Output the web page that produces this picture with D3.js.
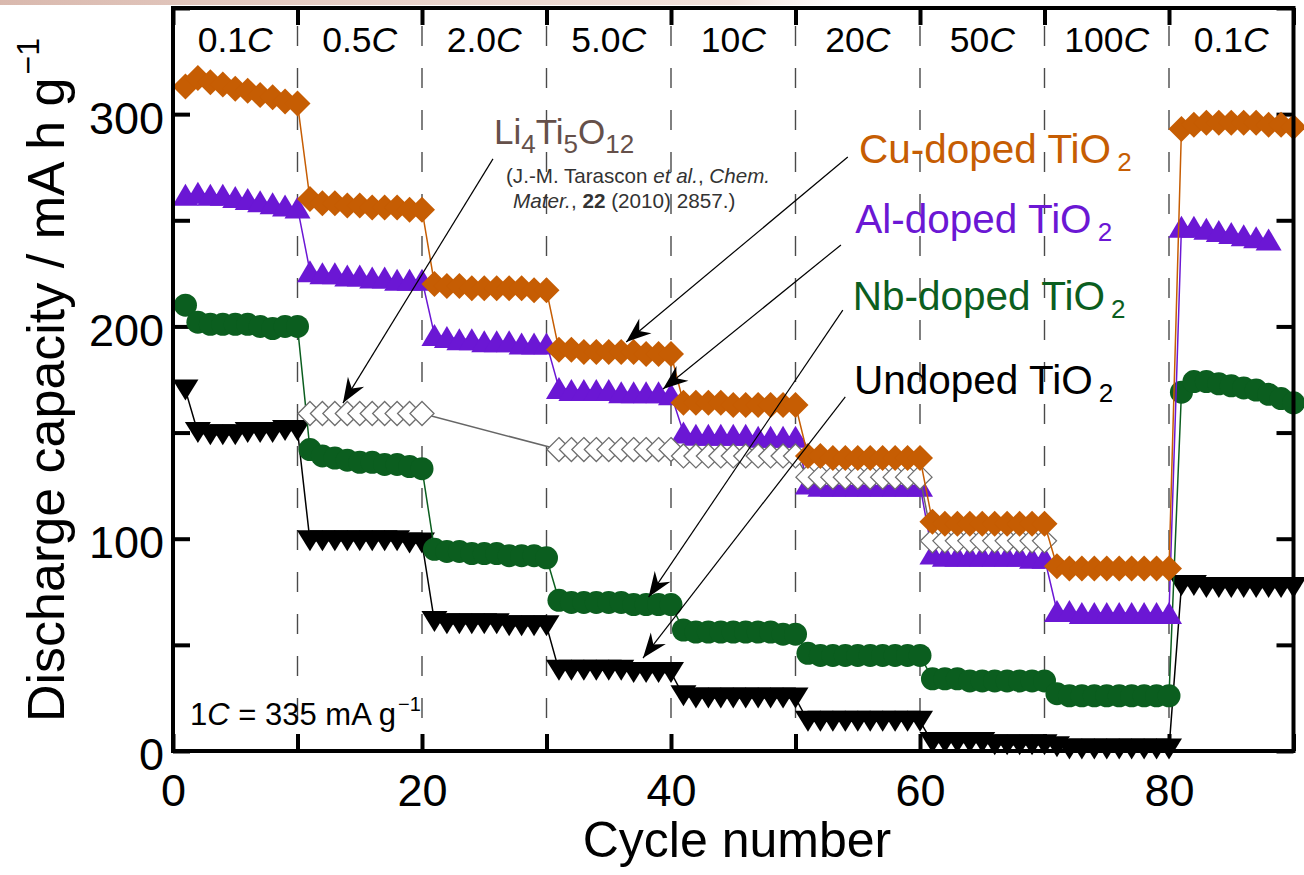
<!DOCTYPE html>
<html>
<head>
<meta charset="utf-8">
<script src="https://cdn.jsdelivr.net/npm/d3@7"></script>
<style>
  html, body { margin: 0; padding: 0; background: #fff; }
  svg { display: block; font-family: "Liberation Sans", Arial, Helvetica, sans-serif; }
</style>
</head>
<body>
<svg id="chart" width="1304" height="875"></svg>
<script>
// ---- data -------------------------------------------------------------
// C-rate applied in each block of ten cycles
const rateLabels = ["0.1", "0.5", "2.0", "5.0", "10", "20", "50", "100", "0.1"];
const rateBounds = [10, 20, 30, 40, 50, 60, 70, 80];

// discharge capacity (mA h g^-1), one value per cycle starting at cycle 1
const cuDoped = [
  313, 317, 315, 314, 312, 311, 309, 308, 306, 305,
  260, 258, 258, 257, 257, 256, 256, 256, 255, 255,
  220, 219, 219, 218, 218, 218, 218, 218, 217, 217,
  189, 189, 188, 188, 188, 188, 188, 187, 187, 187,
  164, 164, 164, 164, 163, 163, 163, 163, 163, 163,
  139, 139, 138, 138, 138, 138, 138, 138, 138, 138,
  108, 107, 107, 107, 107, 107, 107, 107, 107, 107,
  87, 86, 86, 86, 86, 86, 86, 86, 86, 86,
  293, 295, 296, 296, 296, 296, 296, 295, 295, 294
];
const alDoped = [
  262, 263, 262, 262, 261, 260, 259, 258, 257, 256,
  226, 225, 225, 224, 224, 223, 223, 222, 222, 222,
  196, 195, 194, 194, 193, 193, 193, 192, 192, 192,
  171, 170, 170, 170, 170, 169, 169, 169, 169, 168,
  150, 149, 149, 149, 149, 149, 148, 148, 148, 148,
  126, 125, 125, 125, 125, 125, 125, 125, 125, 125,
  93, 92, 92, 92, 92, 92, 92, 92, 91, 91,
  66, 66, 65, 65, 65, 65, 65, 65, 65, 65,
  247, 247, 246, 245, 244, 243, 242, 241
];
const nbDoped = [
  210, 202, 201, 201, 201, 201, 200, 199, 200, 200,
  142, 139, 138, 137, 136, 136, 135, 135, 134, 133,
  95, 94, 94, 93, 93, 93, 92, 92, 92, 91,
  71, 70, 70, 70, 70, 70, 69, 69, 69, 69,
  57, 56, 56, 56, 56, 56, 56, 56, 55, 55,
  46, 45, 45, 45, 45, 45, 45, 45, 45, 45,
  34, 34, 34, 33, 33, 33, 33, 33, 33, 33,
  27, 26, 26, 26, 26, 26, 26, 26, 26, 26,
  169, 174, 174, 173, 172, 171, 170, 168, 166, 164
];
const undoped = [
  170, 150, 149, 149, 149, 150, 150, 150, 151, 151,
  99, 99, 99, 99, 99, 99, 99, 99, 98, 98,
  61, 60, 60, 60, 60, 60, 59, 59, 59, 59,
  38, 38, 38, 38, 38, 38, 37, 37, 37, 37,
  26, 25, 25, 25, 25, 25, 25, 25, 25, 25,
  14, 14, 14, 14, 14, 14, 14, 14, 14, 14,
  4, 4, 4, 4, 4, 3, 3, 3, 3, 3,
  2, 1, 1, 1, 1, 1, 1, 1, 1, 1,
  78, 78, 77, 77, 77, 77, 77, 77, 77, 77
];
// Li4Ti5O12 reference data (Tarascon et al.)
const ltoCycles = [
  11, 12, 13, 14, 15, 16, 17, 18, 19, 20,
  31, 32, 33, 34, 35, 36, 37, 38, 39, 40,
  41, 42, 43, 44, 45, 46, 47, 48, 49, 50,
  51, 52, 53, 54, 55, 56, 57, 58, 59, 60,
  61, 62, 63, 64, 65, 66, 67, 68, 69, 70
];
const ltoValues = [
  159, 159, 159, 159, 159, 159, 159, 159, 159, 159,
  142, 142, 142, 142, 142, 142, 142, 142, 142, 142,
  139, 139, 139, 139, 139, 139, 139, 139, 139, 139,
  129, 129, 129, 129, 129, 129, 129, 129, 129, 129,
  99, 99, 99, 99, 99, 99, 99, 99, 99, 99
];

// axis ticks
const xTicks = [0, 10, 20, 30, 40, 50, 60, 70, 80, 90];
const xTickLabels = [0, 20, 40, 60, 80];
const yTicks = [0, 50, 100, 150, 200, 250, 300, 350];
const yTickLabels = [0, 100, 200, 300];

// ---- layout -----------------------------------------------------------
const svg = d3.select("#chart");
const x = d3.scaleLinear().domain([0, 90]).range([173, 1293.5]);
const y = d3.scaleLinear().domain([0, 350]).range([751, 8]);

const colors = {
  cu: "#c65d03",
  al: "#6b17d4",
  nb: "#0b5e1f",
  un: "#000000",
  lto: "#666666",
  ltoText: "#65504a"
};

// faint tint along the top edge
const defs = svg.append("defs");
const band = defs.append("linearGradient").attr("id", "topBand")
  .attr("x1", "0").attr("x2", "1").attr("y1", "0").attr("y2", "0");
band.append("stop").attr("offset", "0").attr("stop-color", "#c08a78").attr("stop-opacity", 0.6);
band.append("stop").attr("offset", "0.85").attr("stop-color", "#d7a898").attr("stop-opacity", 0.35);
band.append("stop").attr("offset", "1").attr("stop-color", "#e8c8bc").attr("stop-opacity", 0);
svg.append("rect").attr("x", 0).attr("y", 0).attr("width", 860).attr("height", 5)
  .attr("fill", "url(#topBand)");

// dashed separators between C-rate blocks
svg.append("g").selectAll("line").data(rateBounds).join("line")
  .attr("x1", d => x(d)).attr("x2", d => x(d))
  .attr("y1", y(350)).attr("y2", y(0))
  .attr("stroke", "#4a4a4a").attr("stroke-width", 1.4)
  .attr("stroke-dasharray", "20,22").attr("stroke-dashoffset", 24);

// C-rate labels along the top
svg.append("g").selectAll("text").data(rateLabels).join("text")
  .attr("x", (d, i) => x(i * 10 + 5)).attr("y", 52)
  .attr("text-anchor", "middle").attr("font-size", 35.5).attr("fill", "#000")
  .each(function (d) {
    const t = d3.select(this);
    t.append("tspan").text(d);
    t.append("tspan").attr("font-style", "italic").text("C");
  });

// ---- axes -------------------------------------------------------------
function styleAxis(g, size) {
  g.select(".domain").remove();
  g.selectAll(".tick line").attr("stroke", "#000").attr("stroke-width", 4);
  g.selectAll(".tick text").attr("fill", "#000")
    .attr("font-family", "'Liberation Sans', Arial, sans-serif")
    .attr("font-size", size);
  g.attr("font-size", null).attr("font-family", null);
}
const tickLen = -17;

svg.append("g").attr("transform", `translate(0,${y(0)})`)
  .call(d3.axisBottom(x).tickValues(xTicks).tickSize(tickLen).tickPadding(23)
    .tickFormat(d => xTickLabels.includes(d) ? d : ""))
  .call(g => styleAxis(g, 45));
svg.append("g").attr("transform", `translate(0,${y(350)})`)
  .call(d3.axisTop(x).tickValues(xTicks).tickSize(tickLen).tickFormat(""))
  .call(g => styleAxis(g, 10));
svg.append("g").attr("transform", `translate(${x(0)},0)`)
  .call(d3.axisLeft(y).tickValues(yTicks).tickSize(tickLen).tickPadding(9)
    .tickFormat(d => yTickLabels.includes(d) ? d : ""))
  .call(g => styleAxis(g, 45))
  .call(g => g.selectAll(".tick text").attr("dy", "0.42em"));
svg.append("g").attr("transform", `translate(${x(90)},0)`)
  .call(d3.axisRight(y).tickValues(yTicks).tickSize(tickLen).tickFormat(""))
  .call(g => styleAxis(g, 10));

// ---- series -----------------------------------------------------------
const toPoints = (vals) => vals.map((v, i) => ({ c: i + 1, v }));
const line = d3.line().x(d => x(d.c)).y(d => y(d.v));

const shapes = {
  diamond: r => `M0,${-r}L${r},0L0,${r}L${-r},0Z`,
  triUp: (w, h) => `M0,${-h / 2}L${w / 2},${h / 2}L${-w / 2},${h / 2}Z`,
  triDown: (w, h) => `M0,${h / 2}L${w / 2},${-h / 2}L${-w / 2},${-h / 2}Z`
};

function drawSeries(points, color, markerPath, fill, stroke, strokeWidth) {
  const g = svg.append("g");
  g.append("path").datum(points).attr("d", line)
    .attr("fill", "none").attr("stroke", color).attr("stroke-width", 1.5);
  g.selectAll("path.m").data(points).join("path").attr("class", "m")
    .attr("transform", d => `translate(${x(d.c)},${y(d.v)})`)
    .attr("d", markerPath)
    .attr("fill", fill).attr("stroke", stroke).attr("stroke-width", strokeWidth);
}

drawSeries(toPoints(undoped), colors.un, shapes.triDown(26, 21), colors.un, "none", 0);

{
  const pts = toPoints(nbDoped);
  const g = svg.append("g");
  g.append("path").datum(pts).attr("d", line)
    .attr("fill", "none").attr("stroke", colors.nb).attr("stroke-width", 1.5);
  g.selectAll("circle").data(pts).join("circle")
    .attr("cx", d => x(d.c)).attr("cy", d => y(d.v)).attr("r", 11.5)
    .attr("fill", colors.nb);
}

drawSeries(toPoints(alDoped), colors.al, shapes.triUp(26, 22), colors.al, "none", 0);

drawSeries(ltoCycles.map((c, i) => ({ c, v: ltoValues[i] })), colors.lto,
  shapes.diamond(12), "#ffffff", "#6e6e6e", 1.3);

drawSeries(toPoints(cuDoped), colors.cu, shapes.diamond(13), colors.cu, "none", 0);

// ---- frame ------------------------------------------------------------
svg.append("rect")
  .attr("x", x(0)).attr("y", y(350))
  .attr("width", x(90) - x(0)).attr("height", y(0) - y(350))
  .attr("fill", "none").attr("stroke", "#000").attr("stroke-width", 4);

// ---- axis titles ------------------------------------------------------
svg.append("text")
  .attr("x", 737).attr("y", 857).attr("text-anchor", "middle")
  .attr("font-size", 50).attr("fill", "#000").text("Cycle number");

const yTitle = svg.append("text")
  .attr("transform", "translate(63.5,722) rotate(-90)")
  .attr("text-anchor", "start").attr("font-size", 52).attr("fill", "#000");
yTitle.append("tspan").text("Discharge capacity / mA h g");
yTitle.append("tspan").attr("font-size", 32).attr("dx", 3).attr("dy", -25).text("\u22121");

// rate definition note
const note = svg.append("text").attr("x", 190).attr("y", 725)
  .attr("font-size", 31).attr("fill", "#000");
note.append("tspan").text("1");
note.append("tspan").attr("font-style", "italic").text("C");
note.append("tspan").text(" = 335 mA g");
note.append("tspan").attr("font-size", 20).attr("dx", 2).attr("dy", -14).text("\u22121");

// ---- annotations ------------------------------------------------------
const labels = [
  { name: "Cu-doped TiO", color: colors.cu, c: 55.1, v: 277.0, from: [54.2, 279.8], to: [36.4, 192.7] },
  { name: "Al-doped TiO", color: colors.al, c: 54.8, v: 243.9, from: [53.65, 238.4], to: [39.36, 170.5] },
  { name: "Nb-doped TiO", color: colors.nb, c: 54.6, v: 207.7, from: [53.8, 207.7], to: [38.2, 72.5] },
  { name: "Undoped TiO", color: "#000", c: 54.7, v: 168.2, from: [54.0, 166.8], to: [37.75, 43.8] }
];

function arrow(from, to) {
  const x1 = x(from[0]), y1 = y(from[1]), x2 = x(to[0]), y2 = y(to[1]);
  const ang = Math.atan2(y2 - y1, x2 - x1) * 180 / Math.PI;
  const g = svg.append("g");
  g.append("line").attr("x1", x1).attr("y1", y1).attr("x2", x2).attr("y2", y2)
    .attr("stroke", "#000").attr("stroke-width", 1.2);
  g.append("path").attr("transform", `translate(${x2},${y2}) rotate(${ang})`)
    .attr("d", "M0,0L-25,-9.5L-17,0L-25,9.5Z").attr("fill", "#000");
}

labels.forEach(d => {
  arrow(d.from, d.to);
  const t = svg.append("text").attr("x", x(d.c)).attr("y", y(d.v))
    .attr("font-size", 40.5).attr("fill", d.color);
  t.append("tspan").text(d.name);
  t.append("tspan").attr("font-size", 26).attr("dx", 6).attr("dy", 8).text("2");
});

// Li4Ti5O12 label with literature reference
arrow([25.7, 278.9], [13.65, 163.9]);
const lto = svg.append("text").attr("x", 494).attr("y", 144)
  .attr("font-size", 35).attr("fill", colors.ltoText);
[["Li", false], ["4", true], ["Ti", false], ["5", true], ["O", false], ["12", true]].forEach(([s, sub], i, arr) => {
  const prevSub = i > 0 && arr[i - 1][1];
  const ts = lto.append("tspan").text(s);
  if (sub) ts.attr("font-size", 26).attr("dy", 9);
  else if (prevSub) ts.attr("dy", -9);
});

const ref1 = svg.append("text").attr("x", 506).attr("y", 183)
  .attr("font-size", 20.6).attr("fill", "#333");
ref1.append("tspan").text("(J.-M. Tarascon ");
ref1.append("tspan").attr("font-style", "italic").text("et al.");
ref1.append("tspan").text(", ");
ref1.append("tspan").attr("font-style", "italic").text("Chem.");

const ref2 = svg.append("text").attr("x", 513).attr("y", 208)
  .attr("font-size", 20.7).attr("fill", "#333");
ref2.append("tspan").attr("font-style", "italic").text("Mater.");
ref2.append("tspan").text(",  ");
ref2.append("tspan").attr("font-weight", "bold").text("22");
ref2.append("tspan").text(" (2010) 2857.)");
</script>
</body>
</html>
